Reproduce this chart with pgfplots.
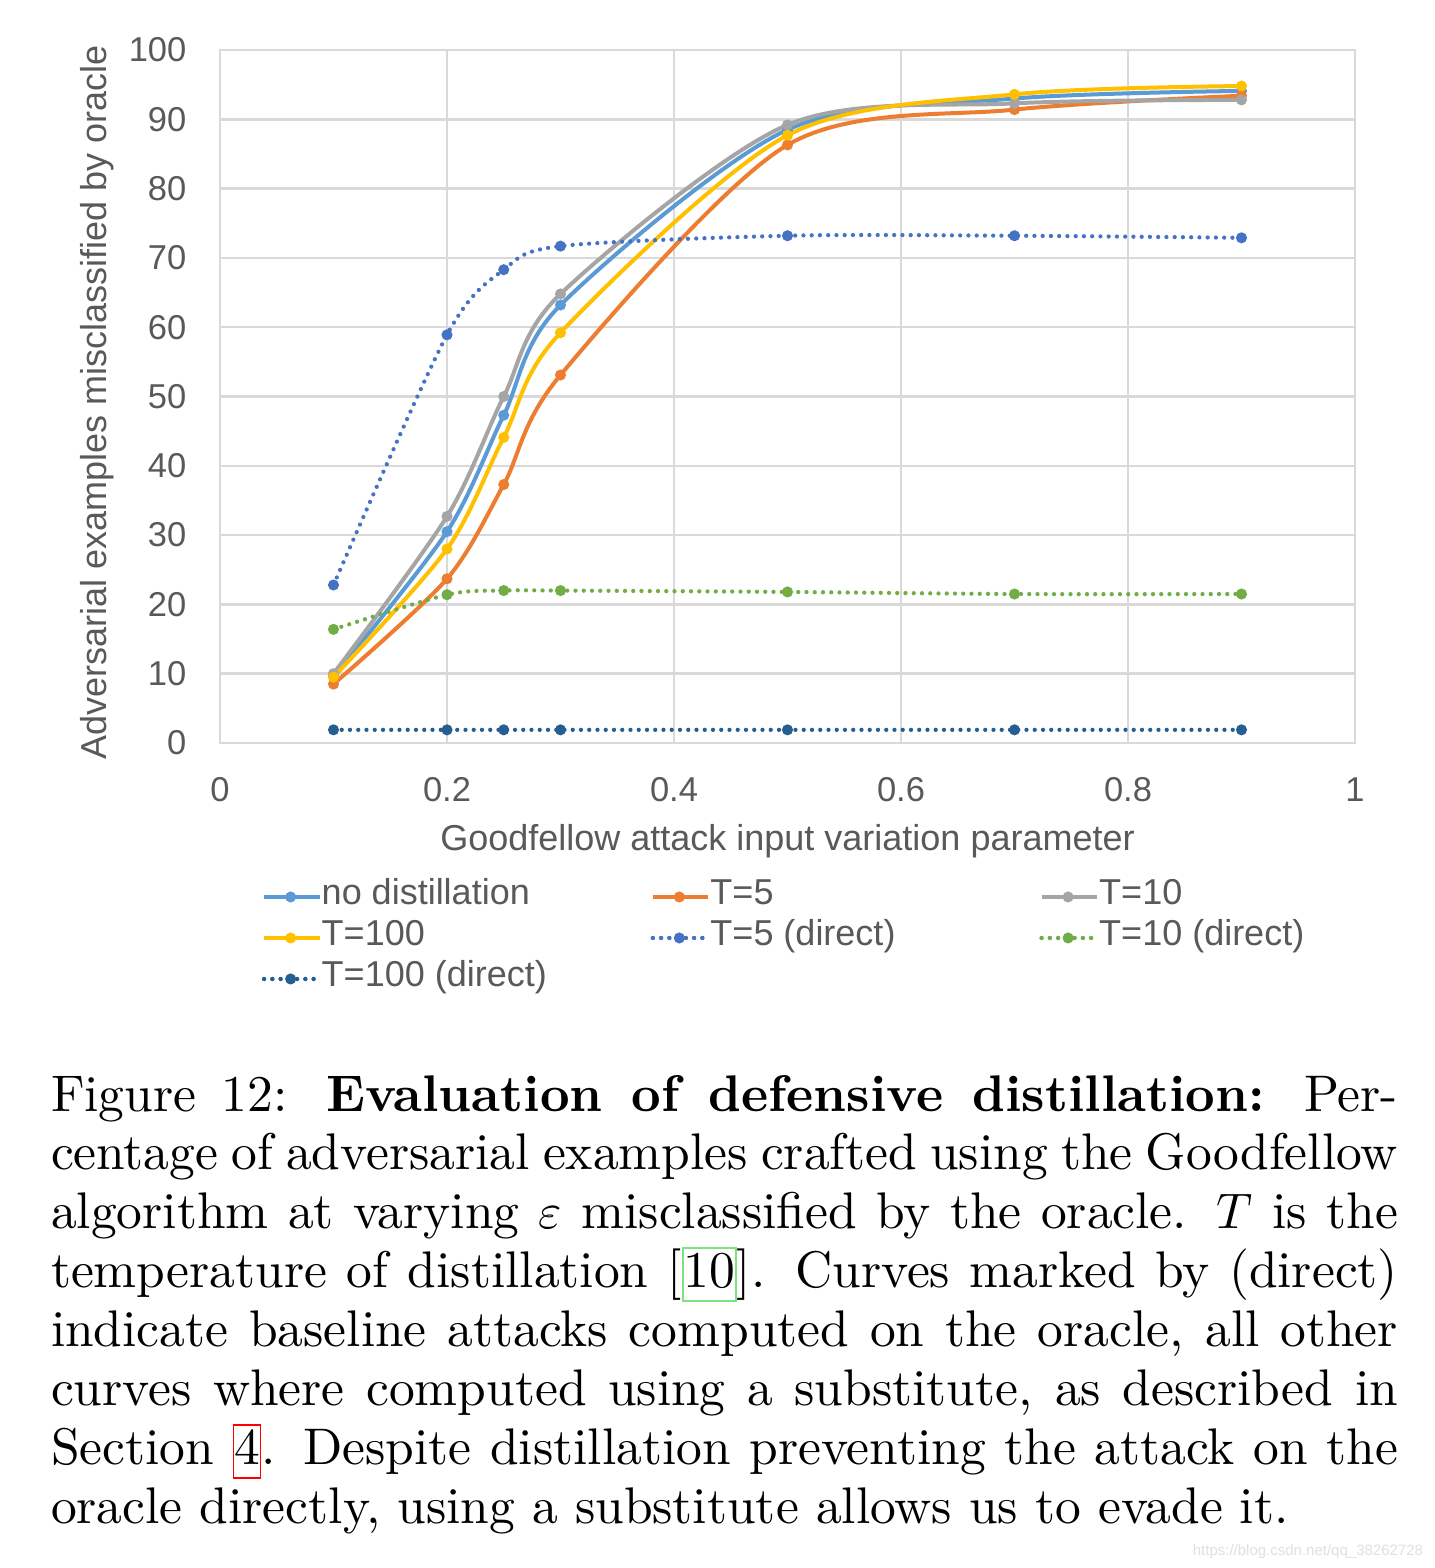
\documentclass[border=0pt]{standalone}
\usepackage{fontspec}
\usepackage{pgfplots}
\pgfplotsset{compat=1.18}
\newfontfamily\arial{Liberation Sans}
\definecolor{cNo}{HTML}{5B9BD5}
\definecolor{cTf}{HTML}{ED7D31}
\definecolor{cTt}{HTML}{A5A5A5}
\definecolor{cTh}{HTML}{FFC000}
\definecolor{cTfd}{HTML}{4472C4}
\definecolor{cTtd}{HTML}{70AD47}
\definecolor{cThd}{HTML}{255E91}
\definecolor{tickgray}{HTML}{595959}
\definecolor{gridgray}{HTML}{D9D9D9}
\definecolor{linkgreen}{HTML}{7FE07F}
\newcommand\tickfont{\arial\fontsize{6.9}{8}\selectfont}
\newcommand\labfont{\arial\fontsize{7.2}{8.6}\selectfont}
\newcommand\linkbox[2]{{\setlength\fboxsep{0pt}\setlength\fboxrule{0.3pt}\color{#1}\fbox{\color{black}\vphantom{[}#2}}}
\begin{document}
\begin{tikzpicture}
\path[use as bounding box, fill=white] (-44pt,-165pt) rectangle (242.8pt,148.6pt);
\begin{axis}[
  at={(0,0)}, anchor=south west,
  scale only axis, width=227pt, height=138.6pt,
  xmin=0, xmax=1, ymin=0, ymax=100,
  xtick={0,0.2,...,1}, ytick={0,10,...,100},
  grid=major, grid style={draw=gridgray, line width=0.5pt},
  axis line style={draw=gridgray, line width=0.5pt},
  major tick length=0pt,
  tick label style={font=\tickfont, text=tickgray},
  /pgf/number format/assume math mode=true,
  xticklabel style={yshift=-3.4pt, /pgf/number format/fixed, /pgf/number format/precision=1},
  yticklabel style={xshift=-3.2pt},
  xlabel={Goodfellow attack input variation parameter},
  ylabel={Adversarial examples misclassified by oracle},
  label style={font=\labfont, text=tickgray},
  xlabel style={at={(axis description cs:0.5,-0.1544)}, anchor=base},
  ylabel style={at={(axis description cs:-0.1000,0.492)}, anchor=base},
  legend columns=3,
  legend cell align=left,
  legend style={at={(axis description cs:0.0370,-0.1926)}, anchor=north west, draw=none, fill=none,
    inner sep=0pt, outer sep=0pt, column sep=0pt, row sep=0pt, font=\labfont, text=tickgray,
    nodes={inner sep=0pt, text height=5.6pt, text depth=2.6pt}},
  legend image code/.code={\path (0pt,0pt) -- (11.1pt,0pt);
    \draw[mark repeat=2, mark phase=2, #1] plot coordinates {(0pt,0pt) (5.3pt,0pt) (10.6pt,0pt)};},
  every axis plot/.append style={line width=0.8pt, mark=*, mark size=0.95pt, smooth},
  clip=false,
]
\addplot[color=cNo, mark options={solid, fill=cNo, line width=0.3pt}] coordinates {
(0.1,9.6) (0.2,30.5) (0.25,47.3) (0.3,63.2) (0.5,88.5) (0.7,93.0) (0.9,94.1)};
\addlegendentry{\makebox[65.8pt][l]{no distillation}}
\addplot[color=cTf, mark options={solid, fill=cTf, line width=0.3pt}] coordinates {
(0.1,8.5) (0.2,23.7) (0.25,37.3) (0.3,53.1) (0.5,86.3) (0.7,91.4) (0.9,93.4)};
\addlegendentry{\makebox[65.8pt][l]{T=5}}
\addplot[color=cTt, mark options={solid, fill=cTt, line width=0.3pt}] coordinates {
(0.1,10.0) (0.2,32.7) (0.25,50.0) (0.3,64.8) (0.5,89.2) (0.7,92.3) (0.9,92.8)};
\addlegendentry{\makebox[65.8pt][l]{T=10}}
\addplot[color=cTh, mark options={solid, fill=cTh, line width=0.3pt}] coordinates {
(0.1,9.5) (0.2,28.0) (0.25,44.1) (0.3,59.2) (0.5,87.7) (0.7,93.6) (0.9,94.8)};
\addlegendentry{\makebox[65.8pt][l]{T=100}}
\addplot[color=cTfd, line width=0.85pt, dash pattern=on 0pt off 1.65pt, line cap=round, mark options={solid, fill=cTfd, line width=0.3pt}] coordinates {
(0.1,22.8) (0.2,58.9) (0.25,68.3) (0.3,71.7) (0.5,73.2) (0.7,73.2) (0.9,72.9)};
\addlegendentry{\makebox[65.8pt][l]{T=5 (direct)}}
\addplot[color=cTtd, line width=0.85pt, dash pattern=on 0pt off 1.65pt, line cap=round, mark options={solid, fill=cTtd, line width=0.3pt}] coordinates {
(0.1,16.4) (0.2,21.4) (0.25,22.0) (0.3,22.0) (0.5,21.8) (0.7,21.5) (0.9,21.5)};
\addlegendentry{\makebox[65.8pt][l]{T=10 (direct)}}
\addplot[color=cThd, line width=0.85pt, dash pattern=on 0pt off 1.65pt, line cap=round, mark options={solid, fill=cThd, line width=0.3pt}] coordinates {
(0.1,1.9) (0.2,1.9) (0.25,1.9) (0.3,1.9) (0.5,1.9) (0.7,1.9) (0.9,1.9)};
\addlegendentry{\makebox[65.8pt][l]{T=100 (direct)}}
\end{axis}
\node[anchor=north west, inner sep=0pt, text width=269.4pt, align=justify, font=\fontsize{10.3}{11.77}\selectfont] at (-34pt,-66.2pt) {Figure 12: \textbf{Evaluation of defensive distillation:} Per-\linebreak centage of adversarial examples crafted using the Goodfellow\linebreak algorithm at varying $\varepsilon$ misclassified by the oracle. $T$ is the\linebreak temperature of distillation [\linkbox{linkgreen}{10}]. Curves marked by (direct)\linebreak indicate baseline attacks computed on the oracle, all other\linebreak curves where computed using a substitute, as described in\linebreak Section \linkbox{red}{4}. Despite distillation preventing the attack on the\linebreak oracle directly, using a substitute allows us to evade it.};
\node[anchor=base east, inner sep=0pt, font=\arial\fontsize{3}{3.6}\selectfont, text=black!12] at (240.8pt,-162.4pt) {https://blog.csdn.net/qq\_38262728};
\end{tikzpicture}
\end{document}
